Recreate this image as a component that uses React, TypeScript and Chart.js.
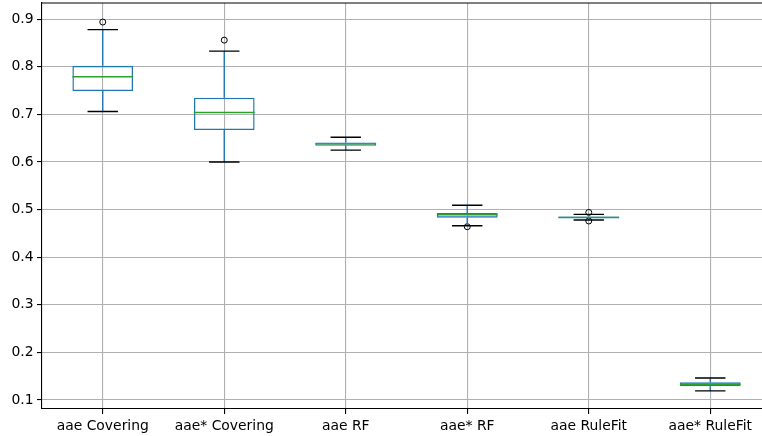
import React, { useEffect, useRef } from "react";
import { Chart, registerables } from "chart.js";

Chart.register(...registerables);

const categories = ["aae Covering", "aae* Covering", "aae RF", "aae* RF", "aae RuleFit", "aae* RuleFit"];
const whiskerLow = [0.706, 0.6, 0.625, 0.466, 0.478, 0.119];
const q1 = [0.749, 0.667, 0.634, 0.483, 0.4815, 0.129];
const median = [0.779, 0.704, 0.638, 0.489, 0.4835, 0.133];
const q3 = [0.802, 0.735, 0.641, 0.493, 0.4855, 0.137];
const whiskerHigh = [0.878, 0.833, 0.652, 0.509, 0.49, 0.146];
const outliers: number[][] = [[0.894], [0.856], [], [0.464], [0.494, 0.476], []];
const yTicks = [0.1, 0.2, 0.3, 0.4, 0.5, 0.6, 0.7, 0.8, 0.9];

const BLUE = "#1f77b4";
const GREEN = "#2ca02c";
const GRID = "#b0b0b0";
const FONT = { family: "'DejaVu Sans', sans-serif", size: 13.9 };

const boxPlugin = {
  id: "boxParts",
  afterDatasetsDraw(chart: any) {
    const ctx = chart.ctx;
    const xs = chart.scales.x;
    const ys = chart.scales.y;
    const meta = chart.getDatasetMeta(0);
    ctx.save();
    categories.forEach((_, i) => {
      const el = meta.data[i];
      const x = xs.getPixelForValue(i);
      const half = el ? el.width / 2 : 30;
      const capHalf = half / 2;
      const yLo = ys.getPixelForValue(whiskerLow[i]);
      const yQ1 = ys.getPixelForValue(q1[i]);
      const yMed = ys.getPixelForValue(median[i]);
      const yQ3 = ys.getPixelForValue(q3[i]);
      const yHi = ys.getPixelForValue(whiskerHigh[i]);
      ctx.strokeStyle = BLUE;
      ctx.lineWidth = 1.39;
      ctx.beginPath();
      ctx.moveTo(x, yQ1);
      ctx.lineTo(x, yLo);
      ctx.moveTo(x, yQ3);
      ctx.lineTo(x, yHi);
      ctx.stroke();
      ctx.strokeStyle = "#000000";
      ctx.beginPath();
      ctx.moveTo(x - capHalf, yLo);
      ctx.lineTo(x + capHalf, yLo);
      ctx.moveTo(x - capHalf, yHi);
      ctx.lineTo(x + capHalf, yHi);
      ctx.stroke();
      ctx.strokeStyle = GREEN;
      ctx.beginPath();
      ctx.moveTo(x - half, yMed);
      ctx.lineTo(x + half, yMed);
      ctx.stroke();
    });
    const a = chart.chartArea;
    ctx.strokeStyle = "#000000";
    ctx.lineWidth = 1.1;
    ctx.beginPath();
    ctx.moveTo(a.left, a.top);
    ctx.lineTo(a.right, a.top);
    ctx.lineTo(a.right, a.bottom);
    ctx.stroke();
    ctx.restore();
  },
};

export default function App() {
  const ref = useRef<HTMLCanvasElement | null>(null);
  useEffect(() => {
    if (!ref.current) return;
    const outlierPoints: { x: string; y: number }[] = [];
    outliers.forEach((arr, i) => arr.forEach((v) => outlierPoints.push({ x: categories[i], y: v })));
    const chart = new Chart(ref.current, {
      type: "bar",
      data: {
        labels: categories,
        datasets: [
          {
            type: "bar",
            data: categories.map((_, i) => [q1[i], q3[i]]) as any,
            backgroundColor: "rgba(0,0,0,0)",
            borderColor: BLUE,
            borderWidth: 1.39,
            borderSkipped: false,
            barPercentage: 0.5,
            categoryPercentage: 1,
          } as any,
          {
            type: "scatter",
            data: outlierPoints as any,
            pointRadius: 3,
            pointHoverRadius: 3,
            pointBorderWidth: 1,
            pointBackgroundColor: "rgba(0,0,0,0)",
            pointBorderColor: "#000000",
            showLine: false,
          } as any,
        ],
      },
      options: {
        responsive: false,
        animation: false,
        layout: { autoPadding: false, padding: { top: 3, right: 0, left: 0, bottom: 0 } },
        plugins: { legend: { display: false }, tooltip: { enabled: false } },
        scales: {
          x: {
            type: "category",
            offset: true,
            grid: { offset: false, color: GRID, lineWidth: 1.1, tickColor: "#000000", tickLength: 5, drawTicks: true },
            border: { display: true, color: "#000000", width: 1.1 },
            ticks: { font: FONT, color: "#000000", padding: 4, maxRotation: 0, autoSkip: false },
            afterFit: (s: any) => {
              s.height = 27;
              s.paddingLeft = 0;
              s.paddingRight = 0;
            },
          },
          y: {
            type: "linear",
            min: 0.081,
            max: 0.934,
            afterBuildTicks: (s: any) => {
              s.ticks = yTicks.map((v) => ({ value: v }));
            },
            grid: { color: GRID, lineWidth: 1.1, tickColor: "#000000", tickLength: 5, drawTicks: true },
            border: { display: true, color: "#000000", width: 1.1 },
            ticks: {
              font: FONT,
              color: "#000000",
              padding: 3.5,
              callback: (v: any) => Number(v).toFixed(1),
            },
            afterFit: (s: any) => {
              s.width = 42;
              s.paddingTop = 0;
              s.paddingBottom = 0;
            },
          },
        },
      },
      plugins: [boxPlugin],
    } as any);
    return () => chart.destroy();
  }, []);
  return (
    <div style={{ position: "fixed", left: 0, top: 0, width: 762, height: 436, overflow: "hidden", background: "#fff" }}>
      <div style={{ width: 771, height: 436 }}>
        <canvas ref={ref} width={771} height={436} style={{ display: "block", width: 771, height: 436 }} />
      </div>
    </div>
  );
}
